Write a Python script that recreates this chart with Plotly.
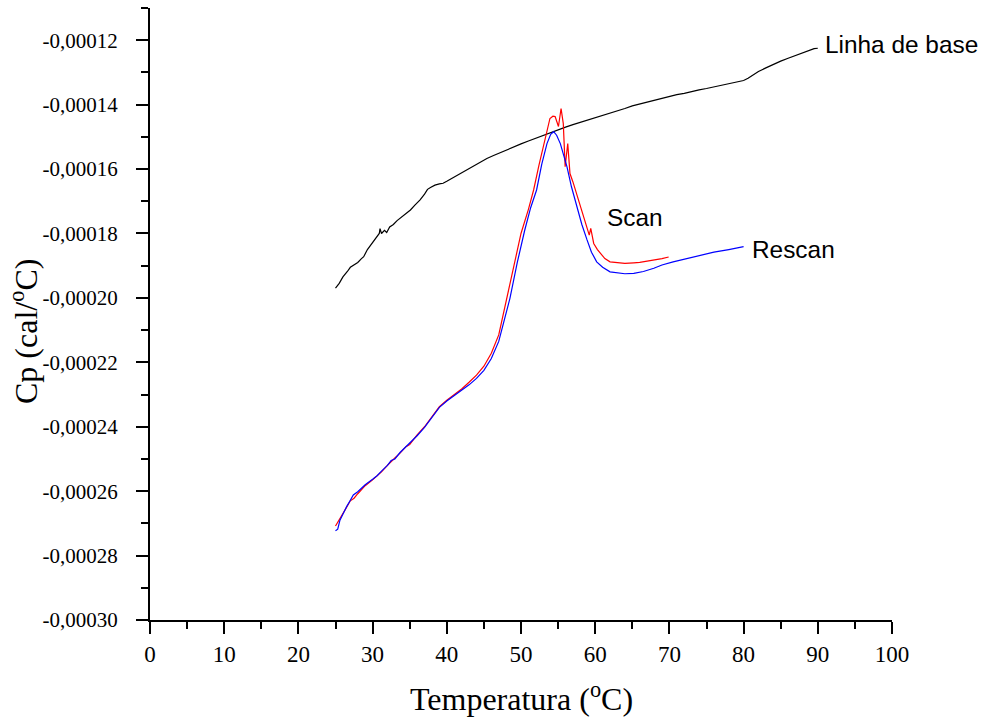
import plotly.graph_objects as go

# ---- data ----
base_T = [25.0, 25.5, 26.0, 26.3, 26.6, 27.0, 27.5, 28.0, 28.5, 28.8, 29.3, 29.9, 30.5, 30.9, 31.0,
          31.2, 31.6, 31.9, 32.3, 32.8, 33.3, 33.7, 34.2, 34.7, 35.1, 35.7, 36.4, 37.0, 37.4, 37.8,
          38.4, 39.0, 39.5, 40.0, 41.0, 42.0, 42.7, 43.5, 44.5, 45.4, 46.3, 47.2, 48.1, 49.0, 50.0,
          51.0, 52.0, 53.0, 54.0, 55.0, 56.0, 57.0, 58.0, 59.0, 60.0, 61.0, 62.0, 63.0, 64.0, 65.0,
          66.0, 67.0, 68.0, 69.0, 70.0, 71.0, 72.0, 73.0, 74.0, 75.0, 76.0, 77.0, 78.0, 79.0, 80.0,
          80.6, 81.3, 82.0, 83.0, 84.0, 85.0, 86.0, 87.0, 88.0, 89.0, 89.5, 90.0]
base_Cp = [-0.0001970, -0.0001955, -0.0001935, -0.0001928, -0.0001918, -0.0001905, -0.0001898,
           -0.0001890, -0.0001878, -0.0001872, -0.0001850, -0.0001831, -0.0001815, -0.0001800,
           -0.0001785, -0.0001800, -0.0001790, -0.0001797, -0.0001780, -0.0001772, -0.0001760,
           -0.0001753, -0.0001743, -0.0001735, -0.0001727, -0.0001712, -0.0001696, -0.0001678,
           -0.0001663, -0.0001657, -0.0001650, -0.0001646, -0.0001644, -0.0001638, -0.0001625,
           -0.0001612, -0.0001603, -0.0001592, -0.0001578, -0.0001567, -0.0001558, -0.0001549,
           -0.0001539, -0.0001530, -0.0001522, -0.0001513, -0.0001504, -0.0001495, -0.0001487,
           -0.0001478, -0.0001470, -0.0001462, -0.0001455, -0.0001449, -0.0001441, -0.0001434,
           -0.0001426, -0.0001419, -0.0001412, -0.0001404, -0.0001398, -0.0001392, -0.0001386,
           -0.0001380, -0.0001375, -0.0001369, -0.0001365, -0.0001359, -0.0001354, -0.0001350,
           -0.0001345, -0.0001341, -0.0001336, -0.0001331, -0.0001325, -0.0001318, -0.0001308,
           -0.0001297, -0.0001286, -0.0001275, -0.0001265, -0.0001256, -0.0001248, -0.0001240,
           -0.0001232, -0.0001226, -0.0001225]

scan_T = [25.0, 25.5, 26.0, 26.5, 27.0, 27.5, 28.0, 29.0, 30.0, 30.6, 31.2, 32.0, 32.5, 33.0, 33.7,
          34.5, 35.0, 36.0, 37.0, 38.0, 39.0, 40.0, 41.0, 42.0, 43.0, 44.0, 45.0, 46.0, 47.0, 48.1,
          49.0, 50.0, 51.0, 51.7, 52.4, 53.0, 53.5, 53.9, 54.3, 54.6, 55.05, 55.4, 55.7, 55.95, 56.3,
          56.6, 57.0, 57.5, 58.0, 58.5, 58.9, 59.2, 59.4, 59.8, 60.3, 60.7, 61.3, 62.0, 63.0, 64.0,
          65.2, 66.0, 67.0, 67.9, 69.0, 69.9]
scan_Cp = [-0.0002708, -0.0002690, -0.0002668, -0.0002650, -0.0002630, -0.0002622, -0.0002608,
           -0.0002583, -0.0002565, -0.0002553, -0.0002540, -0.0002520, -0.0002510, -0.0002497,
           -0.0002482, -0.0002462, -0.0002455, -0.0002425, -0.0002400, -0.0002370, -0.0002338,
           -0.0002318, -0.0002300, -0.0002283, -0.0002262, -0.0002240, -0.0002212, -0.0002172,
           -0.0002115, -0.0002002, -0.0001900, -0.0001800, -0.0001725, -0.0001665, -0.0001590,
           -0.0001531, -0.0001475, -0.0001443, -0.0001436, -0.0001437, -0.0001468, -0.0001412,
           -0.0001459, -0.0001593, -0.0001521, -0.0001614, -0.0001640, -0.0001676, -0.0001715,
           -0.0001752, -0.0001779, -0.0001805, -0.0001784, -0.0001831, -0.0001850, -0.0001862,
           -0.0001878, -0.0001888, -0.0001890, -0.0001893, -0.0001891, -0.0001890, -0.0001886,
           -0.0001883, -0.0001878, -0.0001873]

rescan_T = [25.0, 25.3, 25.6, 26.0, 26.5, 27.0, 27.4, 28.0, 29.0, 30.0, 30.6, 31.2, 32.0, 32.5, 33.0,
            33.7, 34.5, 35.0, 36.0, 37.0, 38.0, 39.0, 40.0, 41.0, 42.0, 43.0, 44.0, 45.0, 46.0, 47.0,
            48.5, 49.5, 50.5, 51.3, 52.1, 52.8, 53.5, 54.0, 54.4, 54.8, 55.3, 55.8, 56.2, 56.8, 57.5,
            58.2, 58.9, 59.5, 60.2, 61.0, 62.0, 63.0, 64.0, 65.2, 66.5, 67.9, 69.0, 70.5, 72.0, 74.2,
            76.0, 78.0, 80.0]
rescan_Cp = [-0.0002723, -0.0002718, -0.0002690, -0.0002670, -0.0002648, -0.0002628, -0.0002612,
             -0.0002602, -0.0002580, -0.0002563, -0.0002552, -0.0002538, -0.0002520, -0.0002505,
             -0.0002500, -0.0002480, -0.0002462, -0.0002452, -0.0002428, -0.0002402, -0.0002372,
             -0.0002340, -0.0002320, -0.0002303, -0.0002288, -0.0002270, -0.0002250, -0.0002225,
             -0.0002188, -0.0002135, -0.0002002, -0.0001890, -0.0001790, -0.0001720, -0.0001665,
             -0.0001585, -0.0001521, -0.0001492, -0.0001484, -0.0001495, -0.0001521, -0.0001560,
             -0.0001593, -0.0001655, -0.0001717, -0.0001772, -0.0001820, -0.0001858, -0.0001888,
             -0.0001905, -0.0001919, -0.0001923, -0.0001925, -0.0001924, -0.0001918, -0.0001908,
             -0.0001898, -0.0001888, -0.0001880, -0.0001867, -0.0001858, -0.0001850, -0.0001841]

x_ticks = [0, 10, 20, 30, 40, 50, 60, 70, 80, 90, 100]
x_minor = [5, 15, 25, 35, 45, 55, 65, 75, 85, 95]
y_ticks = [-0.00030, -0.00028, -0.00026, -0.00024, -0.00022, -0.00020, -0.00018, -0.00016,
           -0.00014, -0.00012]
y_tick_labels = ["-0,00030", "-0,00028", "-0,00026", "-0,00024", "-0,00022", "-0,00020",
                 "-0,00018", "-0,00016", "-0,00014", "-0,00012"]
y_minor = [-0.00029, -0.00027, -0.00025, -0.00023, -0.00021, -0.00019, -0.00017, -0.00015,
           -0.00013, -0.00011]

series_labels = ["Linha de base", "Scan", "Rescan"]

serif = "Liberation Serif, Times New Roman, serif"
sans = "Liberation Sans, Arial, sans-serif"

fig = go.Figure()
fig.add_trace(go.Scatter(x=base_T, y=base_Cp, mode="lines", line=dict(color="black", width=1.2),
                         name=series_labels[0]))
fig.add_trace(go.Scatter(x=scan_T, y=scan_Cp, mode="lines", line=dict(color="#ff0000", width=1.2),
                         name=series_labels[1]))
fig.add_trace(go.Scatter(x=rescan_T, y=rescan_Cp, mode="lines", line=dict(color="#0000ff", width=1.2),
                         name=series_labels[2]))

fig.update_layout(
    width=987, height=719,
    margin=dict(l=150, r=95, t=8, b=99),
    paper_bgcolor="white", plot_bgcolor="white",
    showlegend=False,
    xaxis=dict(range=[0, 100], tickmode="array", tickvals=x_ticks,
               ticktext=[str(v) for v in x_ticks],
               showline=True, linecolor="black", linewidth=2, mirror=False,
               ticks="outside", ticklen=12, tickwidth=2, tickcolor="black",
               showgrid=False, zeroline=False,
               tickfont=dict(family=serif, size=23, color="black"),
               minor=dict(tickmode="array", tickvals=x_minor, ticks="outside", ticklen=7,
                          tickwidth=2, tickcolor="black", showgrid=False)),
    yaxis=dict(range=[-0.00030, -0.00011], tickmode="array", tickvals=y_ticks,
               ticktext=y_tick_labels, ticklabelstandoff=14,
               showline=True, linecolor="black", linewidth=2, mirror=False,
               ticks="outside", ticklen=12, tickwidth=2, tickcolor="black",
               showgrid=False, zeroline=False,
               tickfont=dict(family=serif, size=21, color="black"),
               minor=dict(tickmode="array", tickvals=y_minor, ticks="outside", ticklen=7,
                          tickwidth=2, tickcolor="black", showgrid=False)),
    annotations=[
        dict(text="Temperatura (<sup>o</sup>C)", xref="paper", yref="paper", x=0.5, y=-0.1258,
             xanchor="center", yanchor="middle", showarrow=False,
             font=dict(family=serif, size=32, color="black")),
        dict(text="Cp (cal/<sup>o</sup>C)", xref="paper", yref="paper", x=-0.170, y=0.472,
             xanchor="center", yanchor="middle", textangle=-90, showarrow=False,
             font=dict(family=serif, size=32, color="black")),
        dict(text=series_labels[0], xref="paper", yref="paper", x=0.907, y=0.940,
             xanchor="left", yanchor="middle", showarrow=False,
             font=dict(family=sans, size=24.4, color="black")),
        dict(text=series_labels[1], xref="paper", yref="paper", x=0.613, y=0.657,
             xanchor="left", yanchor="middle", showarrow=False,
             font=dict(family=sans, size=24.4, color="black")),
        dict(text=series_labels[2], xref="paper", yref="paper", x=0.8087, y=0.6046,
             xanchor="left", yanchor="middle", showarrow=False,
             font=dict(family=sans, size=24.4, color="black")),
    ],
)

fig.write_html("out.html")
